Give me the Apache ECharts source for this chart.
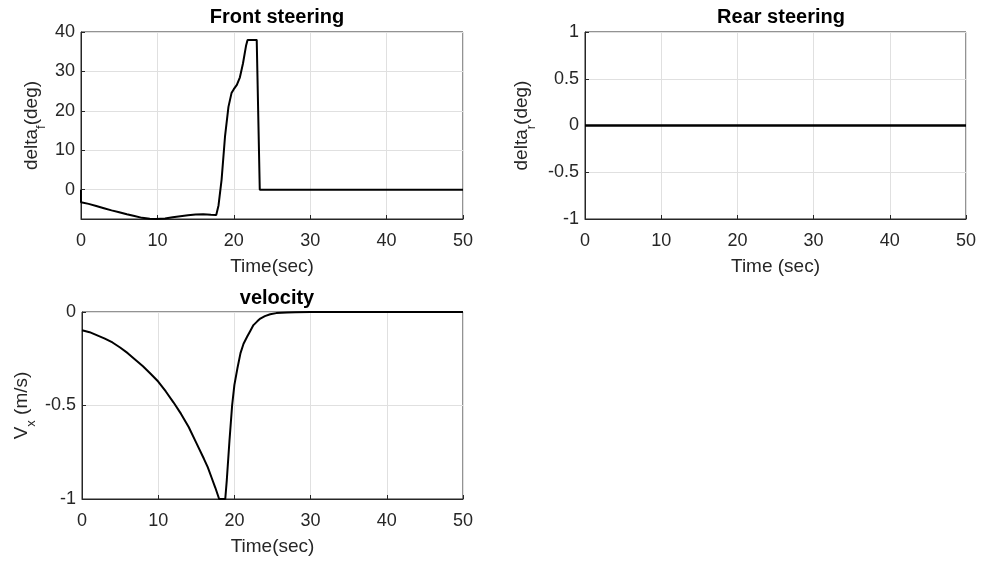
<!DOCTYPE html>
<html>
<head>
<meta charset="utf-8">
<script src="https://cdn.jsdelivr.net/npm/echarts@6/dist/echarts.min.js"></script>
<style>html,body{margin:0;padding:0;background:#fff}#c{width:981px;height:561px}</style>
</head>
<body>
<div id="c"></div>
<script>
// Front steering (deg) vs time (s)
const frontT = [0, 0, 1, 2, 3, 4, 5, 6, 7, 8, 9, 9.8, 11, 12, 13, 14, 15, 16, 17, 17.7, 18.0, 18.4, 18.85, 19.3, 19.7, 20.0, 20.4, 20.8, 21.2, 21.6, 21.8, 22.5, 23.0, 23.1, 23.4, 30, 40, 50];
const frontV = [0, -3.2, -3.6, -4.15, -4.7, -5.25, -5.75, -6.25, -6.7, -7.15, -7.4, -7.44, -7.3, -7.0, -6.75, -6.5, -6.3, -6.25, -6.35, -6.4, -4, 2.5, 13.5, 21, 24.5, 25.5, 26.6, 28.5, 32, 36.5, 38, 38, 38, 37.8, 0, 0, 0, 0];
// Rear steering (deg)
const rearT = [0, 10, 20, 30, 40, 50];
const rearV = [0, 0, 0, 0, 0, 0];
// Longitudinal velocity (m/s)
const velT = [0, 1, 2, 3, 4, 5, 6, 7, 8, 9, 10, 11, 12, 13, 14, 15, 16, 16.5, 17, 17.5, 18.0, 18.8, 19.0, 19.35, 19.7, 20.0, 20.4, 20.8, 21.2, 21.7, 22.1, 22.5, 23.0, 23.4, 24.0, 24.7, 25.5, 26.9, 28, 30, 40, 50];
const velV = [-0.098, -0.108, -0.125, -0.142, -0.163, -0.19, -0.22, -0.255, -0.29, -0.33, -0.372, -0.425, -0.483, -0.545, -0.615, -0.70, -0.785, -0.83, -0.885, -0.94, -1.0, -1.0, -0.9, -0.69, -0.5, -0.39, -0.30, -0.22, -0.17, -0.13, -0.10, -0.07, -0.05, -0.035, -0.022, -0.012, -0.006, -0.003, -0.001, 0, 0, 0];
// Tick labels
const timeTicks = [0, 10, 20, 30, 40, 50];
const frontTicks = [0, 10, 20, 30, 40];
const frontMin = -7.44, frontMax = 40;

const FONT = "'Liberation Sans', Arial, Helvetica, sans-serif";
const TXT = '#262626';
const GRIDC = '#e0e0e0';

function pairs(xs, ys) { return xs.map((x, i) => [x, ys[i]]); }

function xAxis(gridIndex, name) {
  return {
    type: 'value', gridIndex, min: 0, max: 50, interval: 10,
    name, nameLocation: 'middle', nameGap: 38,
    nameTextStyle: { color: TXT, fontFamily: FONT, fontSize: 19 },
    axisLine: { show: true, onZero: false, lineStyle: { color: TXT, width: 1 } },
    axisTick: { show: true, inside: true, length: 4, lineStyle: { color: TXT } },
    axisLabel: { color: TXT, fontFamily: FONT, fontSize: 18, margin: 13 },
    splitLine: { show: true, lineStyle: { color: GRIDC, width: 1 } }
  };
}
const richName = {
  a: { fontSize: 19, lineHeight: 20, verticalAlign: 'top', color: TXT, fontFamily: FONT },
  s: { fontSize: 13, lineHeight: 26, verticalAlign: 'bottom', color: TXT, fontFamily: FONT }
};
function yAxisBase(gridIndex, nameGap) {
  return {
    type: 'value', gridIndex,
    nameLocation: 'middle', nameGap,
    nameTextStyle: { color: TXT, fontFamily: FONT, fontSize: 19, rich: richName },
    axisLine: { show: true, onZero: false, lineStyle: { color: TXT, width: 1 } },
    axisTick: { show: true, inside: true, length: 4, lineStyle: { color: TXT } },
    axisLabel: { color: TXT, fontFamily: FONT, fontSize: 18, margin: 6 },
    splitLine: { show: true, lineStyle: { color: GRIDC, width: 1 } }
  };
}

const yFront = yAxisBase(0, 33);
yFront.min = frontMin; yFront.max = frontMax;
yFront.name = '{a|delta}{s|f}{a|(deg)}';
yFront.axisLabel.customValues = frontTicks;
yFront.axisTick.customValues = frontTicks;

const yRear = yAxisBase(1, 47);
yRear.min = -1; yRear.max = 1; yRear.interval = 0.5;
yRear.name = '{a|delta}{s|r}{a|(deg)}';

const yVel = yAxisBase(2, 44);
yVel.min = -1; yVel.max = 0; yVel.interval = 0.5;
yVel.name = '{a|V}{s|x}{a| (m/s)}';

const gridStyle = { show: true, borderColor: TXT, borderWidth: 1, backgroundColor: 'transparent', containLabel: false };

const titleStyle = { color: '#000', fontFamily: FONT, fontSize: 20, fontWeight: 'bold' };

const option = {
  animation: false,
  backgroundColor: '#fff',
  title: [
    { text: 'Front steering', left: 272, top: 2, textAlign: 'center', textStyle: titleStyle },
    { text: 'Rear steering', left: 776, top: 2, textAlign: 'center', textStyle: titleStyle },
    { text: 'velocity', left: 272, top: 283, textAlign: 'center', textStyle: titleStyle }
  ],
  grid: [
    Object.assign({ left: 81, top: 32, width: 382, height: 187 }, gridStyle),
    Object.assign({ left: 585, top: 32, width: 381, height: 187 }, gridStyle),
    Object.assign({ left: 82, top: 312, width: 381, height: 187 }, gridStyle)
  ],
  xAxis: [xAxis(0, 'Time(sec)'), xAxis(1, 'Time (sec)'), xAxis(2, 'Time(sec)')],
  yAxis: [yFront, yRear, yVel],
  series: [
    { type: 'line', xAxisIndex: 0, yAxisIndex: 0, data: pairs(frontT, frontV), showSymbol: false, lineStyle: { color: '#000', width: 2 }, clip: false },
    { type: 'line', xAxisIndex: 1, yAxisIndex: 1, data: pairs(rearT, rearV), showSymbol: false, lineStyle: { color: '#000', width: 2.5 } },
    { type: 'line', xAxisIndex: 2, yAxisIndex: 2, data: pairs(velT, velV), showSymbol: false, lineStyle: { color: '#000', width: 2 }, clip: false }
  ]
};
echarts.init(document.getElementById('c'), null, { renderer: 'canvas' }).setOption(option);
</script>
</body>
</html>
